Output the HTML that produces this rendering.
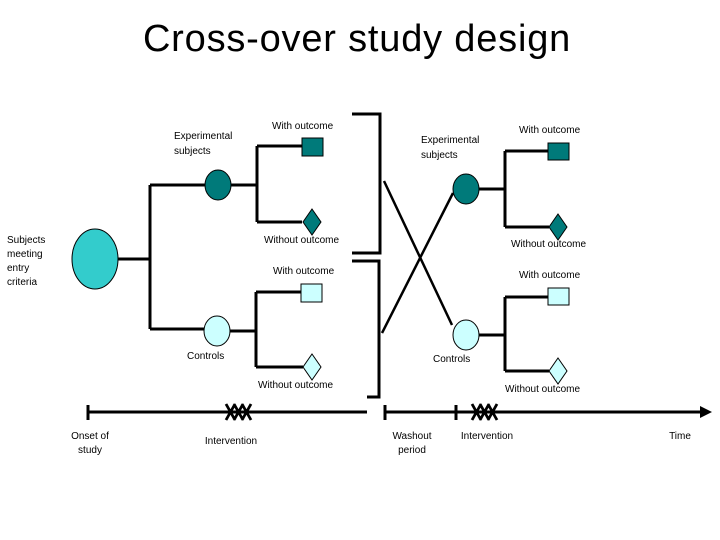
<!DOCTYPE html>
<html><head><meta charset="utf-8"><style>
html,body{margin:0;padding:0;background:#fff}
svg{display:block}
text{font-family:"Liberation Sans",sans-serif;fill:#000}
.s{font-size:10px}
</style></head><body>
<svg width="720" height="540" viewBox="0 0 720 540" xmlns="http://www.w3.org/2000/svg">
<text x="357" y="51" text-anchor="middle" style="font-size:38px;letter-spacing:0.8px">Cross-over study design</text>
<g stroke="#000" stroke-width="3" fill="none">
<path d="M118 259H150M150 185V329M150 185H205M150 329H204M231 185H257M257 146V222M257 146H302M257 222H302M230 331H256M256 292V367M256 292H301M256 367H303"/>
<path d="M352 114H380V253H352M352 261H379V397H367"/>
<path d="M384 181L452 325M382 333L453 193" stroke-width="2.5"/>
<path d="M479 189H505M505 151V227M505 151H548M505 227H549M479 335H505M505 297V371M505 297H548M505 371H549"/>
<path d="M88 412H367M385 412H702M88 405V420M385 405V420M456 405V420"/>
</g>
<polygon points="700,406 712,412 700,418" fill="#000"/>
<g stroke="#000" stroke-width="2.8" fill="none">
<path d="M226 404L235 420M235 404L226 420M234 404L243 420M243 404L234 420M242 404L251 420M251 404L242 420"/>
<path d="M472 404L481 420M481 404L472 420M480 404L489 420M489 404L480 420M488 404L497 420M497 404L488 420"/>
</g>
<g stroke="#000" stroke-width="1">
<ellipse cx="95" cy="259" rx="23" ry="30" fill="#33cccc"/>
<ellipse cx="218" cy="185" rx="13" ry="15" fill="#007a7a"/>
<ellipse cx="217" cy="331" rx="13" ry="15" fill="#ccffff"/>
<rect x="302" y="138" width="21" height="18" fill="#007a7a"/>
<polygon points="312,209 321,222 312,235 303,222" fill="#007a7a"/>
<rect x="301" y="284" width="21" height="18" fill="#ccffff"/>
<polygon points="312,354 321,367 312,380 303,367" fill="#ccffff"/>
<ellipse cx="466" cy="189" rx="13" ry="15" fill="#007a7a"/>
<ellipse cx="466" cy="335" rx="13" ry="15" fill="#ccffff"/>
<rect x="548" y="143" width="21" height="17" fill="#007a7a"/>
<polygon points="558,214 567,227 558,240 549,227" fill="#007a7a"/>
<rect x="548" y="288" width="21" height="17" fill="#ccffff"/>
<polygon points="558,358 567,371 558,384 549,371" fill="#ccffff"/>
</g>
<g class="s">
<text x="174" y="139">Experimental</text><text x="174" y="154">subjects</text>
<text x="272" y="129">With outcome</text>
<text x="264" y="243">Without outcome</text>
<text x="273" y="274">With outcome</text>
<text x="187" y="359">Controls</text>
<text x="258" y="388">Without outcome</text>
<text x="7" y="243">Subjects</text><text x="7" y="257">meeting</text><text x="7" y="271">entry</text><text x="7" y="285">criteria</text>
<text x="421" y="143">Experimental</text><text x="421" y="158">subjects</text>
<text x="519" y="133">With outcome</text>
<text x="511" y="247">Without outcome</text>
<text x="519" y="278">With outcome</text>
<text x="433" y="362">Controls</text>
<text x="505" y="392">Without outcome</text>
<text x="90" y="439" text-anchor="middle">Onset of</text><text x="90" y="453" text-anchor="middle">study</text>
<text x="231" y="444" text-anchor="middle">Intervention</text>
<text x="412" y="439" text-anchor="middle">Washout</text><text x="412" y="453" text-anchor="middle">period</text>
<text x="487" y="439" text-anchor="middle">Intervention</text>
<text x="680" y="439" text-anchor="middle">Time</text>
</g>
</svg>
</body></html>
